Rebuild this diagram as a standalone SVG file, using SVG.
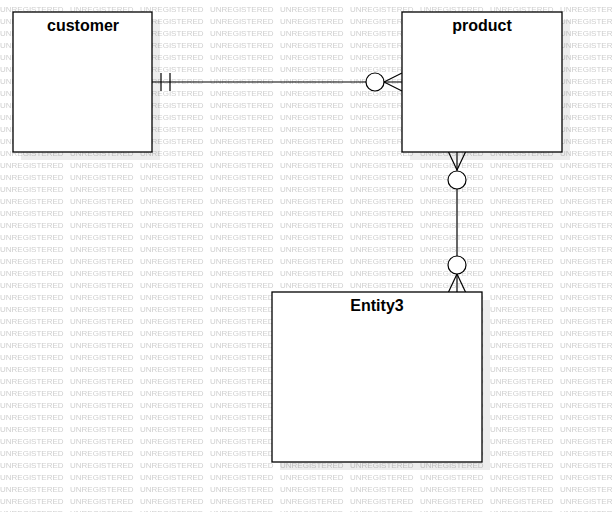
<svg xmlns="http://www.w3.org/2000/svg" width="612" height="512" viewBox="0 0 612 512">
<style>
.wm{font-family:"Liberation Sans",Arial,sans-serif;font-size:8px;fill:#cfcfcf}
.box{fill:#fff;stroke:#000;stroke-width:1.3}
.shadow{fill:#000;fill-opacity:0.07}
.title{font-family:"Liberation Sans",Arial,sans-serif;font-size:16px;font-weight:bold;fill:#000;text-anchor:middle}
.ln{fill:none;stroke:#000;stroke-width:1.2}
.circ{fill:#fff;stroke:#000;stroke-width:1.2}
</style>
<defs>
<pattern id="wmp" patternUnits="userSpaceOnUse" x="0" y="0" width="70" height="12">
<text class="wm" x="0" y="11.5">UNREGISTERED</text>
</pattern>
</defs>
<rect width="612" height="512" fill="#fff"/>
<rect width="612" height="512" fill="url(#wmp)"/>
<rect class="shadow" x="21" y="20" width="139" height="140"/>
<rect class="shadow" x="410" y="20" width="160" height="140"/>
<rect class="shadow" x="280" y="300" width="210" height="170"/>
<g id="connectors">
<g id="c1">
<line class="ln" x1="152" y1="82" x2="402" y2="82"/>
<line class="ln" x1="161" y1="73" x2="161" y2="91"/>
<line class="ln" x1="170" y1="73" x2="170" y2="91"/>
<line class="ln" x1="384" y1="82" x2="402" y2="73"/>
<line class="ln" x1="384" y1="82" x2="402" y2="91"/>
<circle class="circ" cx="375" cy="82" r="9"/>
</g>
<g id="c2">
<line class="ln" x1="457" y1="152" x2="457" y2="292"/>
<line class="ln" x1="457" y1="170" x2="448.5" y2="152"/>
<line class="ln" x1="457" y1="170" x2="465.5" y2="152"/>
<circle class="circ" cx="457" cy="180" r="9"/>
<line class="ln" x1="457" y1="274" x2="448.5" y2="292"/>
<line class="ln" x1="457" y1="274" x2="465.5" y2="292"/>
<circle class="circ" cx="457" cy="265" r="9"/>
</g>
</g>
<g id="customer">
<rect class="box" x="13" y="12" width="139" height="140"/>
<text class="title" x="83" y="31">customer</text>
</g>
<g id="product">
<rect class="box" x="402" y="12" width="160" height="140"/>
<text class="title" x="482" y="31">product</text>
</g>
<g id="entity3">
<rect class="box" x="272" y="292" width="210" height="170"/>
<text class="title" x="377" y="311">Entity3</text>
</g>
</svg>
